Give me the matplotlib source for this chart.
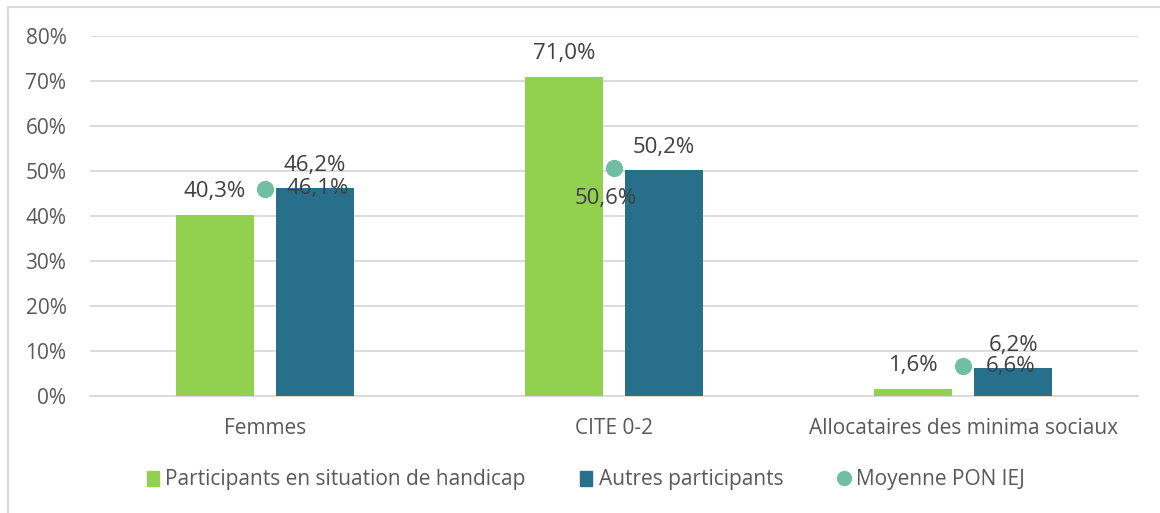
import numpy as np
import matplotlib.pyplot as plt
from matplotlib.lines import Line2D
from matplotlib.patches import Patch

plt.rcParams['font.family'] = ['Open Sans', 'DejaVu Sans']

categories = ["Femmes", "CITE 0-2", "Allocataires des minima sociaux"]
handicap = [40.3, 71.0, 1.6]
autres = [46.2, 50.2, 6.2]
moyenne = [46.1, 50.6, 6.6]
ticks = [0, 10, 20, 30, 40, 50, 60, 70, 80]

c_green = "#92D050"
c_blue = "#276F8B"
c_dot = "#70BFA5"
c_text = "#404040"
c_axis = "#595959"

def fr(v):
    return f"{v:.1f}%".replace(".", ",")

fig = plt.figure(figsize=(11.6, 5.13), dpi=100)
ax = fig.add_axes([90 / 1160, 1 - 396 / 513, 1048 / 1160, 360 / 513])

x = np.arange(len(categories))
w = 0.2235
off = 0.143

ax.bar(x - off, handicap, width=w, color=c_green, zorder=3)
ax.bar(x + off, autres, width=w, color=c_blue, zorder=3)
ax.scatter(x, moyenne, s=130, color=c_dot, zorder=4)

for i in range(len(categories)):
    ax.annotate(fr(handicap[i]), (x[i] - off, handicap[i]), xytext=(0, 9),
                textcoords="offset points", ha="center", va="bottom",
                fontsize=16, color=c_text, zorder=5)
    ax.annotate(fr(autres[i]), (x[i] + off, autres[i]), xytext=(0, 9),
                textcoords="offset points", ha="center", va="bottom",
                fontsize=16, color=c_text, zorder=5)

# labels for the average dots (Excel placement varies)
dot_pos = [((16, 0), "left", "center"), ((-6, -14), "center", "top"), ((16, 0), "left", "center")]
for i in range(len(categories)):
    (dx, dy), ha, va = dot_pos[i]
    ax.annotate(fr(moyenne[i]), (x[i], moyenne[i]), xytext=(dx, dy),
                textcoords="offset points", ha=ha, va=va,
                fontsize=16, color=c_text, zorder=5)

ax.set_xlim(-0.5, 2.5)
ax.set_ylim(0, 80)
ax.set_yticks(ticks)
ax.set_yticklabels([f"{t}%" for t in ticks], fontsize=15, color=c_axis)
ax.set_xticks(x)
ax.set_xticklabels(categories, fontsize=15, color=c_axis)
ax.tick_params(axis="both", length=0)
ax.tick_params(axis="x", pad=16)
ax.tick_params(axis="y", pad=17)
ax.yaxis.grid(True, color="#D9D9D9", linewidth=1.3, zorder=0)
for s in ["top", "right", "left"]:
    ax.spines[s].set_visible(False)
ax.spines["bottom"].set_color("#D9D9D9")
ax.spines["bottom"].set_linewidth(1.3)

handles = [
    Patch(color=c_green, label="Participants en situation de handicap"),
    Patch(color=c_blue, label="Autres participants"),
    Line2D([], [], marker="o", linestyle="", color=c_dot, markersize=10, label="Moyenne PON IEJ"),
]
leg = fig.legend(handles=handles, loc="center", bbox_to_anchor=(0.505, 1 - 480 / 513),
                 ncol=3, frameon=False, fontsize=15, handlelength=0.6, handleheight=0.75,
                 handletextpad=0.3, columnspacing=2.6)
for t in leg.get_texts():
    t.set_color(c_axis)

# outer chart frame
fig.add_artist(Line2D([8 / 1160, 8 / 1160], [0, 1 - 7 / 513], color="#D9D9D9", linewidth=1.5))
fig.add_artist(Line2D([8 / 1160, 1], [1 - 7 / 513, 1 - 7 / 513], color="#D9D9D9", linewidth=1.5))

fig.savefig("out.png", dpi=100)
